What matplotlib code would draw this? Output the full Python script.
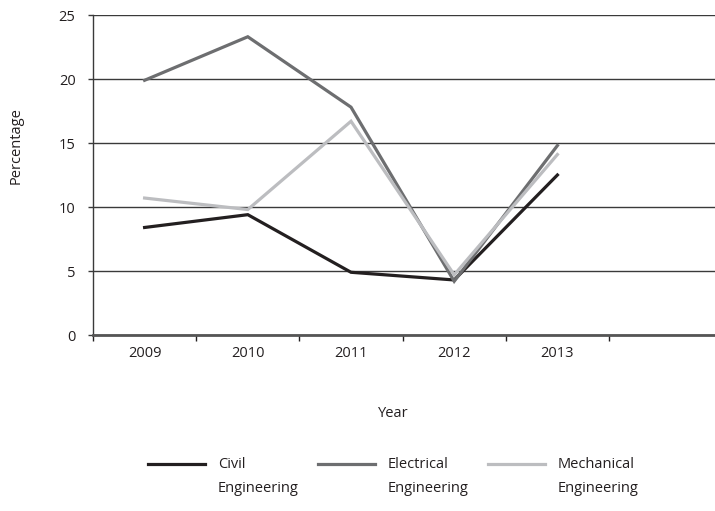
import numpy as np
import matplotlib
matplotlib.use("Agg")
import matplotlib.pyplot as plt
from matplotlib.legend_handler import HandlerLine2D

plt.rcParams['font.family'] = ['Open Sans', 'DejaVu Sans']

# data
years = ['2009', '2010', '2011', '2012', '2013']
civil = [8.4, 9.4, 4.9, 4.3, 12.5]
electrical = [19.9, 23.3, 17.8, 4.2, 14.8]
mechanical = [10.7, 9.8, 16.7, 4.7, 14.1]
yticks = [0, 5, 10, 15, 20, 25]

text_c = '#231f20'

fig = plt.figure(figsize=(7.15, 5.11), dpi=100)
ax = fig.add_axes([93/715, 1 - 335/511, (715 - 93)/715, 320/511])

x = np.arange(len(years))
l1, = ax.plot(x, civil, color='#231f20', lw=2.3, solid_joinstyle='miter')
l2, = ax.plot(x, electrical, color='#6d6e70', lw=2.3, solid_joinstyle='miter')
l3, = ax.plot(x, mechanical, color='#bcbdc0', lw=2.3, solid_joinstyle='miter')

# plot area runs on past the last category, as in the original
ax.set_xlim(-0.5, -0.5 + (715 - 93) / 103.2)
ax.set_ylim(0, 25)

# category boundaries as ticks, labels in between
ax.set_xticks(np.arange(len(years) + 1) - 0.5)
ax.set_xticklabels([])
ax.set_xticks(x, minor=True)
ax.set_xticklabels(years, minor=True)
ax.tick_params(axis='x', which='major', direction='out', length=4.3, width=1, color='#231f20')
ax.tick_params(axis='x', which='minor', length=0, pad=8, labelsize=10.5, labelcolor=text_c)

ax.set_yticks(yticks)
ax.set_yticklabels([str(v) for v in yticks])
ax.tick_params(axis='y', direction='out', length=3.6, width=1, color='#3a3a3a',
               pad=9, labelsize=10.5, labelcolor=text_c)

ax.grid(axis='y', color='#3a3a3a', lw=1.0)
ax.set_axisbelow(True)
for s in ['top', 'right']:
    ax.spines[s].set_visible(False)
ax.spines['left'].set_color('#3a3a3a')
ax.spines['left'].set_linewidth(1.0)
ax.spines['bottom'].set_color('#555555')
ax.spines['bottom'].set_linewidth(2.0)

fig.text(16/715, 1 - 146/511, 'Percentage', rotation=90, ha='center', va='center',
         fontsize=10.5, color=text_c)
fig.text(393/715, 1 - 413/511, 'Year', ha='center', va='center', fontsize=10.5, color=text_c)


class TopHandler(HandlerLine2D):
    # put the legend line next to the first line of a two-line label
    def create_artists(self, legend, orig_handle, xdescent, ydescent, width, height, fontsize, trans):
        arts = super().create_artists(legend, orig_handle, xdescent, ydescent,
                                      width, height, fontsize, trans)
        for a in arts:
            a.set_ydata(np.asarray(a.get_ydata()) + 9.5)
        return arts


leg = fig.legend([l1, l2, l3],
                 ['Civil\nEngineering', 'Electrical\nEngineering', 'Mechanical\nEngineering'],
                 loc='upper left', bbox_to_anchor=(148/715, 1 - 457/511), ncol=3,
                 frameon=False, fontsize=10.5, handlelength=3.9, handletextpad=0.9,
                 columnspacing=1.3, borderpad=0, borderaxespad=0, labelcolor=text_c,
                 handler_map={matplotlib.lines.Line2D: TopHandler()})
for t in leg.get_texts():
    t.set_linespacing(1.8)

fig.savefig('out.png', dpi=100)
